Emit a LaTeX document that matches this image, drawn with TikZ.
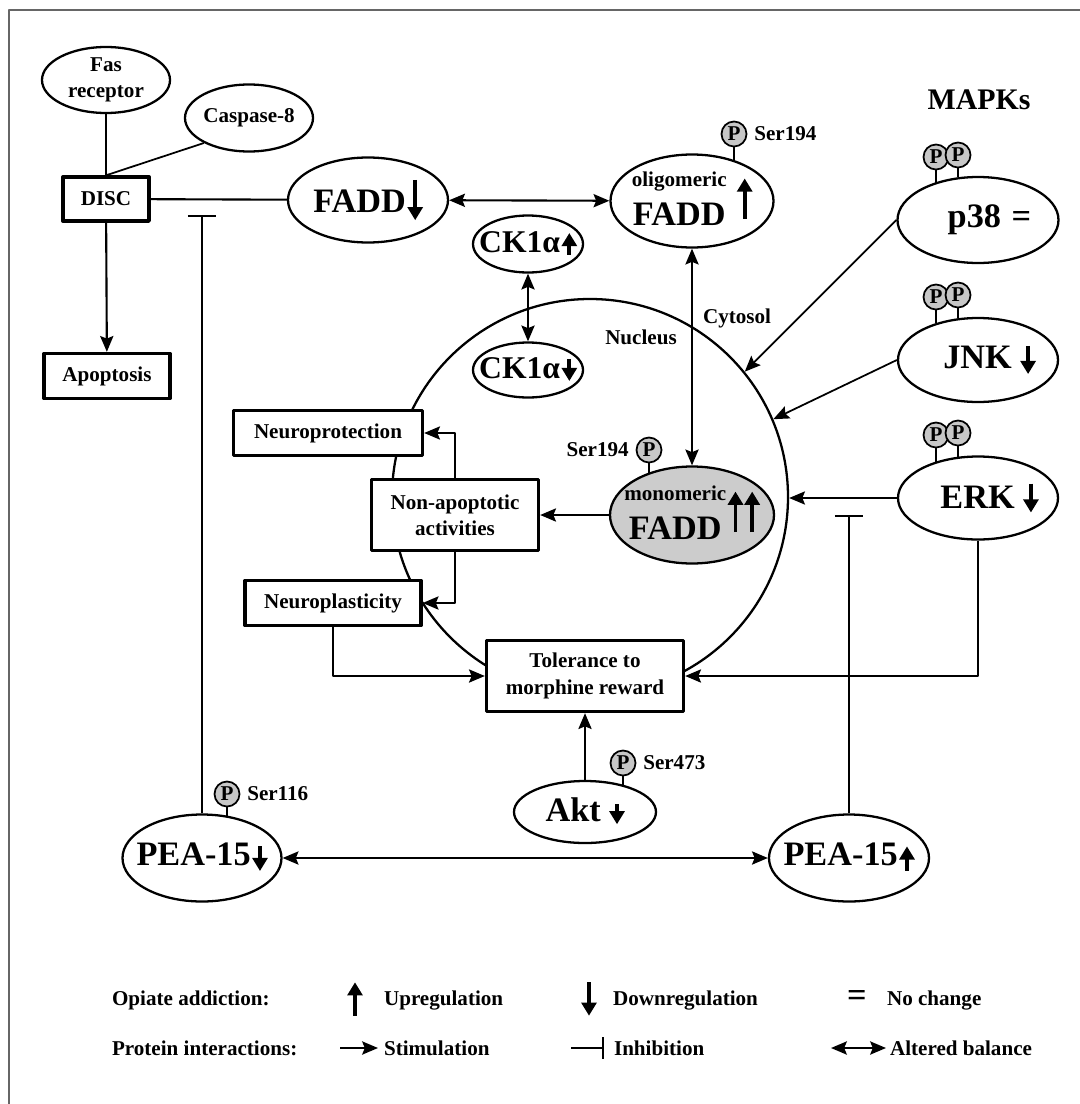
\documentclass[tikz,border=0pt]{standalone}
\usepackage{fontspec}
\setmainfont{Liberation Serif}
\usetikzlibrary{shapes.geometric,arrows.meta,calc}

\definecolor{pgray}{gray}{0.78}
\definecolor{monogray}{gray}{0.8}
\definecolor{framegray}{gray}{0.4}

% text of an oval, kept out of the oval's size
\newcommand{\cbox}[1]{\makebox[0pt]{#1}}
% thick up/down regulation arrows set inside text
\newcommand{\uparr}[2][0pt]{\tikz[baseline=#1]\draw[line width=2.2pt,line cap=butt,-{Triangle[length=7.5pt,width=8.5pt]}] (0,0) -- (0,#2);}
\newcommand{\dnarr}[2][0pt]{\tikz[baseline=#1]\draw[line width=2.2pt,line cap=butt,-{Triangle[length=7.5pt,width=8.5pt]}] (0,#2) -- (0,0);}
\newcommand{\bigf}{\fontsize{19.5}{22}\selectfont}

\begin{document}
\begin{tikzpicture}[x=0.2mm, y=-0.2mm, line join=round, line width=1.2pt,
    font=\bfseries\fontsize{12}{15}\selectfont,
    >={Stealth[length=9pt,width=7.5pt,inset=1.5pt]},
    oval/.style={ellipse, draw, inner sep=0pt, line width=1.3pt, fill=white},
    box/.style={rectangle, draw, inner sep=0pt, line width=1.9pt, fill=white},
    phos/.style={circle, draw, fill=pgray, inner sep=0pt, minimum size=0.5cm, line width=1pt},
    big/.style={font=\bfseries\bigf},
    mid/.style={font=\bfseries\fontsize{18}{20}\selectfont},
    thin/.style={line width=1pt},
    lg/.style={anchor=west, inner sep=0pt}]
\useasboundingbox (0,0) rectangle (1080,1104);
\draw[framegray, line width=1.2pt] (9,1104) -- (9,10) -- (1080,10);

% nucleus first, the boxes sit on top of it
\node[draw, circle, minimum size=7.92cm, inner sep=0pt, line width=1.3pt] (nuc) at (590,497) {};
\node (nucl) at (641,337) {Nucleus};
\node (cyto) at (737,318) {Cytosol};

% death receptor side
\node[oval, minimum width=2.56cm, minimum height=1.32cm, align=center] (fas) at (106,80) {Fas\\receptor};
\node[oval, minimum width=2.56cm, minimum height=1.34cm] (casp) at (249,118) {\cbox{Caspase-8}};
\node[box, minimum width=1.72cm, minimum height=0.88cm] (disc) at (106,199) {DISC};
\node[box, minimum width=2.52cm, minimum height=0.9cm] (apop) at (107,376) {Apoptosis};

% FADD forms
\node[oval, big, minimum width=3.2cm, minimum height=1.7cm] (fadd) at (368,200) {\cbox{FADD\hspace{1pt}\dnarr[4.5pt]{23pt}}};
\node[oval, minimum width=3.26cm, minimum height=1.86cm] (olig) at (692,201)
  {\cbox{\begin{tabular}[b]{@{}c@{}}oligomeric\\[5pt]\bigf FADD\end{tabular}\hspace{6pt}\uparr[-4pt]{23pt}}};
\node[oval, fill=monogray, minimum width=3.28cm, minimum height=1.94cm] (mono) at (692,515)
  {\cbox{\begin{tabular}[b]{@{}c@{}}monomeric\\[5pt]\bigf FADD\end{tabular}\hspace{1pt}\uparr[-4.5pt]{23pt}\hspace{1pt}\uparr[-4.5pt]{23pt}}};
\node[oval, mid, minimum width=2.2cm, minimum height=1.14cm] (ck1up) at (528,244) {\cbox{CK1α\hspace{1pt}\uparr[1.5pt]{12.5pt}}};
\node[oval, mid, minimum width=2.2cm, minimum height=1.1cm] (ck1dn) at (528,370) {\cbox{CK1α\hspace{1pt}\dnarr[1.5pt]{12.5pt}}};

% MAPKs
\node[font=\bfseries\fontsize{17}{20}\selectfont] (mapk) at (979,100) {MAPKs};
\node[oval, big, minimum width=3.22cm, minimum height=1.72cm] (p38) at (978,220) {\cbox{\hspace{13pt}p38\hspace{6pt}=}};
\node[oval, big, minimum width=3.2cm, minimum height=1.68cm] (jnk) at (978,360) {\cbox{\hspace{13pt}JNK\hspace{5pt}\dnarr[3pt]{16pt}}};
\node[oval, big, minimum width=3.2cm, minimum height=1.66cm] (erk) at (978,498) {\cbox{\hspace{13pt}ERK\hspace{5pt}\dnarr[2.5pt]{16.5pt}}};
\foreach \n in {p38,jnk,erk}{
  \node[phos] (\n-pa) at ($(\n)+(-42,-63)$) {P};
  \node[phos] (\n-pb) at ($(\n)+(-20,-65)$) {P};
  \draw (\n-pa.south) -- (\n-pa.south |- \n.139);
  \draw (\n-pb.south) -- (\n-pb.south |- \n.116);
}

% outputs
\node[box, minimum width=3.78cm, minimum height=0.9cm] (nprot) at (328,433) {Neuroprotection};
\node[box, minimum width=3.34cm, minimum height=1.42cm, align=center] (nonap) at (455,515) {Non-apoptotic\\activities};
\node[box, minimum width=3.52cm, minimum height=0.9cm] (nplas) at (333,603) {Neuroplasticity};
\node[box, minimum width=3.94cm, minimum height=1.42cm, align=center] (tol) at (585,676) {Tolerance to\\morphine reward};

% Akt and PEA-15
\node[oval, big, minimum width=2.84cm, minimum height=1.24cm] (akt) at (585,812) {\cbox{Akt\hspace{5pt}\dnarr[1.5pt]{11.5pt}}};
\node[oval, big, minimum width=3.18cm, minimum height=1.74cm] (peadn) at (202,858) {\cbox{PEA-15\hspace{1pt}\dnarr[3pt]{14pt}}};
\node[oval, big, minimum width=3.2cm, minimum height=1.74cm] (peaup) at (849,858) {\cbox{PEA-15\hspace{1pt}\uparr[3pt]{14pt}}};

% phosphorylation sites
\node[phos] (olig-p) at (734,134) {P};
\node[anchor=west] (olig-ser) at (olig-p.east) {Ser194};
\draw (olig-p.south) -- (olig-p.south |- olig.43);
\node[phos] (mono-p) at (649,450) {P};
\node[anchor=east] (mono-ser) at (mono-p.west) {Ser194};
\draw (mono-p.south) -- (mono-p.south |- mono.136);
\node[phos] (akt-p) at (623,763) {P};
\node[anchor=west] (akt-ser) at (akt-p.east) {Ser473};
\draw (akt-p.south) -- (akt-p.south |- akt.35);
\node[phos] (pea-p) at (227,794) {P};
\node[anchor=west] (pea-ser) at (pea-p.east) {Ser116};
\draw (pea-p.south) -- (pea-p.south |- peadn.59);

% connections
\coordinate (inhA) at (202,215);
\coordinate (inhB) at (849,515);
\draw (fas) -- (disc);
\draw[thin] (casp.209) -- (disc.north);
\draw[->] (disc) -- (apop);
\draw (disc) -- (fadd);
\draw[<->] (fadd) -- (olig);
\draw[<->] (ck1up) -- (ck1dn);
\draw[<->] (olig) -- (mono);
\draw[->] (mono) -- (nonap);
\draw[->] (nonap.north) |- (nprot);
\draw[->] (nonap.south) |- (nplas);
\draw[->] (nplas.south) |- (tol);
\draw[->] (erk.south) |- (tol);
\draw[->] (akt) -- (tol);
\draw[<->] (peadn) -- (peaup);
\draw[-{Bar[width=16pt]}] (peadn.north) -- (inhA);
\draw[-{Bar[width=16pt]}] (peaup.north) -- (inhB);
\draw[->, thin] (p38.west) -- (nuc.39);
\draw[->, thin] (jnk.west) -- (nuc.23);
\draw[->, thin] (erk.west) -- (nuc.east |- erk.west);

% legend
\node[lg] (lgopi) at (111,1000) {Opiate addiction:};
\node (lgup) at (355,999) {\uparr{19pt}};
\node[lg] (lgupt) at (383,1000) {Upregulation};
\node (lgdn) at (589,999) {\dnarr{19pt}};
\node[lg] (lgdnt) at (612,1000) {Downregulation};
\node[big] (lgeq) at (857,998) {=};
\node[lg] (lgeqt) at (886,1000) {No change};
\node[lg] (lgprot) at (111,1048) {Protein interactions:};
\node[lg] (lgstim) at (383,1048) {Stimulation};
\node[lg] (lginh) at (613,1048) {Inhibition};
\node[lg] (lgalt) at (889,1048) {Altered balance};
\draw[->] ($(lgstim.west)+(-43,0)$) -- ($(lgstim.west)+(-5,0)$);
\draw[-{Bar[width=12.5pt]}] ($(lginh.west)+(-42,0)$) -- ($(lginh.west)+(-9,0)$);
\draw[<->] ($(lgalt.west)+(-58,0)$) -- ($(lgalt.west)+(-3,0)$);
\end{tikzpicture}
\end{document}
